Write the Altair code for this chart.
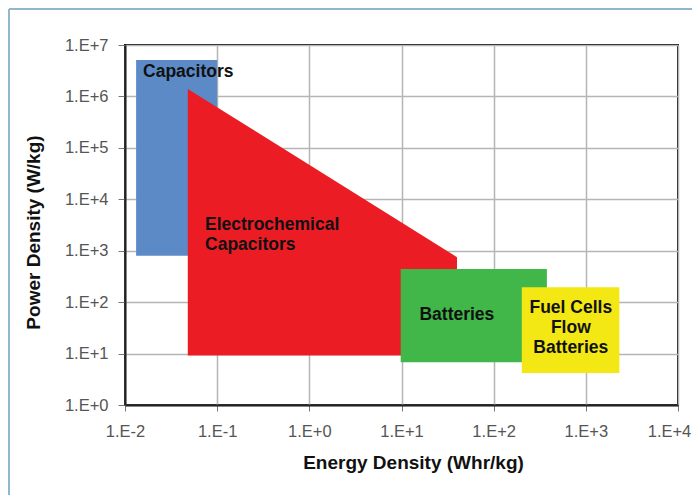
import altair as alt
import pandas as pd

# ---- data ----
rect_names = ["Capacitors", "Batteries", "Fuel Cells Flow Batteries"]
rect_x1 = [0.0132, 9.8, 202]
rect_x2 = [0.1, 378, 2310]
rect_y1 = [800, 6.8, 4.2]
rect_y2 = [5.1e6, 440, 195]
rect_colors = ["#5b8ac7", "#41b649", "#f4e814"]

ec_x = [0.048, 40]
ec_top = [1.4e6, 750]
ec_bottom = [9.2, 9.2]

label_text = ["Capacitors", "Electrochemical", "Capacitors", "Batteries",
              "Fuel Cells", "Flow", "Batteries"]
label_x = [0.0157, 0.0738, 0.0738, 39.9, 687, 687, 687]
label_y = [3.0e6, 3150, 1285, 55.9, 76.4, 31.2, 12.7]
label_align = ["left", "left", "left", "center", "center", "center", "center"]

x_ticks = [0.01, 0.1, 1, 10, 100, 1000, 10000]
x_tick_labels = ["1.E-2", "1.E-1", "1.E+0", "1.E+1", "1.E+2", "1.E+3", "1.E+4"]
y_ticks = [1, 10, 100, 1000, 1e4, 1e5, 1e6, 1e7]
y_tick_labels = ["1.E+0", "1.E+1", "1.E+2", "1.E+3", "1.E+4", "1.E+5", "1.E+6", "1.E+7"]

# ---- tables ----
rects = pd.DataFrame({"name": rect_names, "x1": rect_x1, "x2": rect_x2,
                      "y1": rect_y1, "y2": rect_y2, "color": rect_colors})
ec = pd.DataFrame({"x": ec_x, "top": ec_top, "bottom": ec_bottom})
labels = pd.DataFrame({"text": label_text, "x": label_x, "y": label_y, "al": label_align})

FONT = "Liberation Sans"
TICK_FS = 16.5
LABEL_FS = 17.5
TITLE_FS = 19

def expr_from(labels_list, offset):
    arr = "[" + ",".join("'%s'" % s for s in labels_list) + "]"
    return "%s[round(log(datum.value)/LN10)+%d]" % (arr, offset)

xscale = alt.Scale(type="log", domain=[0.01, 10000], nice=False)
yscale = alt.Scale(type="log", domain=[1, 1e7], nice=False)

xaxis = alt.Axis(values=x_ticks, labelExpr=expr_from(x_tick_labels, 2),
                 title="Energy Density (Whr/kg)", grid=True,
                 tickSize=6, labelPadding=12, labelFontSize=TICK_FS,
                 labelColor="#555555", labelFont=FONT,
                 labelOffset={"condition": {"test": "datum.value >= %g" % x_ticks[-1], "value": -9},
                              "value": 0},
                 titleFont=FONT, titleFontSize=TITLE_FS, titleFontWeight="bold",
                 titleColor="#111111", titleX=288, titleY=57,
                 titleBaseline="middle", titleAlign="center",
                 domainColor="#222222", domainWidth=2, tickColor="#777777",
                 gridColor="#b5b5b5", gridWidth=1.5, labelFlush=False)
yaxis = alt.Axis(values=y_ticks, labelExpr=expr_from(y_tick_labels, 0),
                 title="Power Density (W/kg)", grid=True,
                 tickSize=7, labelPadding=10, labelFontSize=TICK_FS,
                 labelColor="#555555", labelFont=FONT,
                 titleFont=FONT, titleFontSize=TITLE_FS, titleFontWeight="bold",
                 titleColor="#111111", titleX=-92, titleY=187,
                 titleBaseline="middle", titleAlign="center", titleAngle=270,
                 domainColor="#222222", domainWidth=2, tickColor="#777777",
                 gridColor="#b5b5b5", gridWidth=1.5, labelFlush=False)

cap = alt.Chart(rects[rects["name"] == "Capacitors"]).mark_rect().encode(
    x=alt.X("x1:Q", scale=xscale, axis=xaxis),
    x2="x2:Q",
    y=alt.Y("y1:Q", scale=yscale, axis=yaxis),
    y2="y2:Q",
    color=alt.Color("color:N", scale=None),
)

red = alt.Chart(ec).mark_area(color="#ec1c24", opacity=1, interpolate="linear").encode(
    x=alt.X("x:Q", scale=xscale),
    y=alt.Y("top:Q", scale=yscale),
    y2="bottom:Q",
)

others = alt.Chart(rects[rects["name"] != "Capacitors"]).mark_rect().encode(
    x=alt.X("x1:Q", scale=xscale),
    x2="x2:Q",
    y=alt.Y("y1:Q", scale=yscale),
    y2="y2:Q",
    color=alt.Color("color:N", scale=None),
)

text_left = alt.Chart(labels[labels["al"] == "left"]).mark_text(
    font=FONT, fontSize=LABEL_FS, fontWeight="bold", color="#111111",
    baseline="middle", align="left").encode(
    x=alt.X("x:Q", scale=xscale), y=alt.Y("y:Q", scale=yscale), text="text:N")
text_center = alt.Chart(labels[labels["al"] == "center"]).mark_text(
    font=FONT, fontSize=LABEL_FS, fontWeight="bold", color="#111111",
    baseline="middle", align="center").encode(
    x=alt.X("x:Q", scale=xscale), y=alt.Y("y:Q", scale=yscale), text="text:N")

frame_left = alt.Chart(labels).mark_rule(color="#93b6ca", strokeWidth=2).encode(
    x=alt.value(-116), y=alt.value(-36), y2=alt.value(460))
frame_top = alt.Chart(labels).mark_rule(color="#93b6ca", strokeWidth=2).encode(
    x=alt.value(-116), x2=alt.value(580), y=alt.value(-36))

chart = alt.layer(cap, red, others, text_left, text_center, frame_left, frame_top).properties(
    width=553, height=360,
    autosize=alt.AutoSizeParams(type="none"),
    padding={"left": 117, "top": 37, "right": 14, "bottom": 90},
    background="white",
).configure_view(stroke="#111111", strokeWidth=2)

chart.save("out.html", embed_options={"renderer": "svg", "actions": False})
